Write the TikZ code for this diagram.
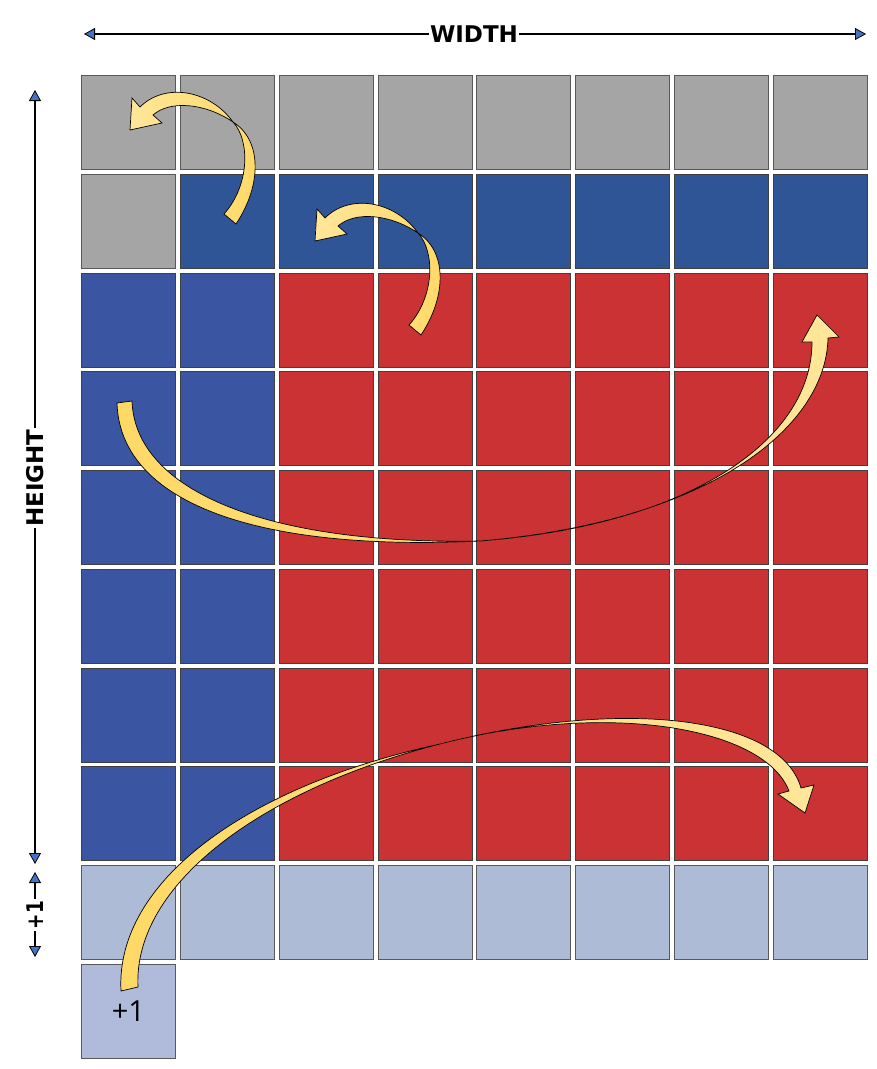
\documentclass[tikz,border=0pt]{standalone}
\usepackage{fontspec}
\usepackage{graphicx}
\setmainfont{Open Sans}
\newfontfamily\lblfont{DejaVu Sans}
\usetikzlibrary{arrows.meta}
\definecolor{cgray}{HTML}{A5A5A5}
\definecolor{cdblue}{HTML}{2F5597}
\definecolor{cblue}{HTML}{3A55A2}
\definecolor{cred}{HTML}{CB3234}
\definecolor{clblue}{HTML}{ADBBD6}
\definecolor{clbluetwo}{HTML}{B0BADB}
\definecolor{ylwdark}{HTML}{FFD966}
\definecolor{ylwlight}{HTML}{FFE699}
\definecolor{tipblue}{HTML}{4472C4}
\tikzset{
  cell/.style={draw=black!75, line width=0.9pt, minimum width=94pt, minimum height=94pt, inner sep=0pt, anchor=north west},
  graycell/.style={cell, fill=cgray, draw=black!65},
  dbluecell/.style={cell, fill=cdblue},
  bluecell/.style={cell, fill=cblue},
  redcell/.style={cell, fill=cred},
  lbluecell/.style={cell, fill=clblue, draw=black!65},
  ribbon/.style={draw=black, line width=0.7pt, line join=miter},
  ribbonLR/.style={ribbon, left color=ylwdark, right color=ylwlight},
  ribbonRL/.style={ribbon, left color=ylwlight, right color=ylwdark},
  dimtip/.tip={Triangle[width=12pt,length=11pt,fill=tipblue,line width=0.8pt]},
  dimline/.style={line width=1.4pt, {dimtip}-{dimtip}},
  dimlabel/.style={fill=white, inner sep=1.5pt, font=\lblfont\bfseries\fontsize{23}{25}\selectfont},
  smallribbon/.pic={
    \path[ribbonRL]
      (236,224) .. controls (262,185) and (262,140) .. (233,122)
      .. controls (205,103) and (170,100) .. (153,115)
      -- (162,123) -- (130,130) -- (132,98) -- (140,107)
      .. controls (165,82) and (210,90) .. (233,122)
      .. controls (250,140) and (250,185) .. (224,214)
      -- cycle;
  }
}
\begin{document}
\begin{tikzpicture}[x=1pt, y=-1pt]
\useasboundingbox (0,0) rectangle (877,1069);
% row 0
\foreach \j in {0,...,7} {
  \node[graycell] (c-0-\j) at ({81+98.86*\j},75) {};
}
% row 1
\node[graycell] (c-1-0) at (81,{75+98.78}) {};
\foreach \j in {1,...,7} {
  \node[dbluecell] (c-1-\j) at ({81+98.86*\j},{75+98.78}) {};
}
% rows 2-7
\foreach \i in {2,...,7} {
  \foreach \j in {0,1} {
    \node[bluecell] (c-\i-\j) at ({81+98.86*\j},{75+98.78*\i}) {};
  }
  \foreach \j in {2,...,7} {
    \node[redcell] (c-\i-\j) at ({81+98.86*\j},{75+98.78*\i}) {};
  }
}
% row 8
\foreach \j in {0,...,7} {
  \node[lbluecell] (c-8-\j) at ({81+98.86*\j},{75+98.78*8}) {};
}
% row 9
\node[lbluecell, fill=clbluetwo, font=\fontsize{29}{31}\selectfont] (c-9-0) at (81,{75+98.78*9}) {\raisebox{-3pt}{+1}};

% dimension lines
\coordinate (wl) at (84,34);
\coordinate (wr) at (866,34);
\draw[dimline] (wl) -- (wr);
\node[dimlabel] (wlab) at (474,34) {WIDTH};

\coordinate (ht) at (35,90);
\coordinate (hb) at (35,864);
\draw[dimline] (ht) -- (hb);
\node[dimlabel, rotate=90] (hlab) at (35,478) {HEIGHT};

\coordinate (pt) at (35,872);
\coordinate (pb) at (35,957);
\draw[dimline] (pt) -- (pb);
\node[dimlabel, rotate=90] (plab) at (35,915) {\scalebox{0.8}[1]{+1}};

% ribbons
\pic at (0,0) {smallribbon};
\pic at (185,111) {smallribbon};

\path[ribbonLR]
  (117,403) .. controls (120,500) and (250,552) .. (480,541)
  .. controls (690,525) and (812,440) .. (812,342)
  -- (802,342) -- (817,315) -- (839,337) -- (828,338)
  .. controls (826,430) and (705,522) .. (480,541)
  .. controls (265,545) and (135,490) .. (132,401)
  -- cycle;

\path[ribbonLR]
  (121,991) .. controls (115,880) and (250,785) .. (440,744)
  .. controls (610,700) and (765,728) .. (789,791)
  -- (778,794) -- (805,813) -- (814,785) -- (801,788)
  .. controls (780,715) and (620,698) .. (440,744)
  .. controls (260,790) and (133,885) .. (138,987)
  -- cycle;
\end{tikzpicture}
\end{document}
